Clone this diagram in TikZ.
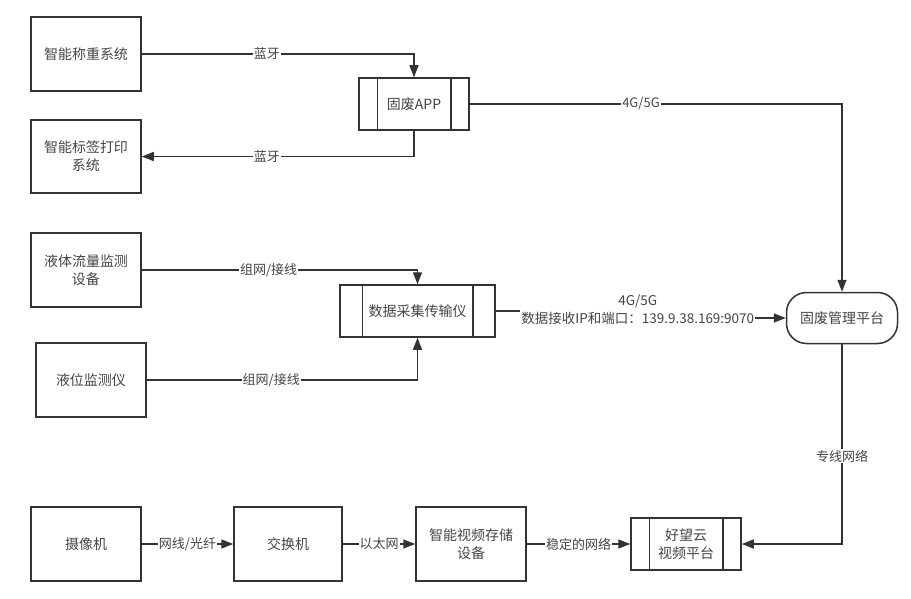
\documentclass[tikz,border=0pt]{standalone}
\usepackage{fontspec}
\newfontfamily\cjk{Noto Sans CJK SC}
\usetikzlibrary{arrows.meta}
\definecolor{linegray}{RGB}{51,51,51}
\definecolor{textgray}{RGB}{68,68,68}

\begin{document}
\begin{tikzpicture}[x=1pt, y=-1pt,
    box/.style={draw=linegray, line width=1.5pt, minimum width=110pt, minimum height=74pt,
      align=center, text=textgray, inner sep=2pt, font=\cjk\fontsize{14}{18}\selectfont},
    proc/.style={box, minimum height=52pt},
    arr/.style={draw=linegray, line width=1.4pt, -{Triangle[length=12pt,width=9pt]}},
    lab/.style={fill=white, text=textgray, inner sep=1pt, align=center,
      font=\cjk\fontsize{13}{18}\selectfont}]
  \useasboundingbox (0,0) rectangle (911,599);
  % nodes
  \node[box] (wgt) at (86,54) {智能称重系统};
  \node[box, minimum height=73pt] (lbl) at (86,156.5) {智能标签打印\\系统};
  \node[proc] (app) at (414,104) {固废APP};
  \node[box] (liq) at (86,270) {液体流量监测\\设备};
  \node[box] (lvl) at (91,380) {液位监测仪};
  \node[proc, minimum width=155pt] (dac) at (417.5,311) {数据采集传输仪};
  \node[box, minimum width=111pt, minimum height=51pt, rounded corners=20pt] (plat) at (842,318) {固废管理平台};
  \node[box] (cam) at (86,544) {摄像机};
  \node[box, minimum width=108pt] (sw) at (288,544) {交换机};
  \node[box] (nvr) at (471,544) {智能视频存储\\设备};
  \node[proc] (hwy) at (686,544) {好望云\\视频平台};
  % side bars of the process boxes
  \foreach \n/\d in {app/19, dac/23, hwy/19}
    \draw[linegray, line width=1.5pt] ([xshift=\d pt]\n.north west) -- ([xshift=\d pt]\n.south west)
      ([xshift=-\d pt]\n.north east) -- ([xshift=-\d pt]\n.south east);
  % connectors
  \draw[arr] (wgt.east) -| node[lab, pos=0.23] {蓝牙} (app.north);
  \draw[arr] (app.south) |- node[lab, pos=0.77] {蓝牙} (lbl.east);
  \draw[arr] (app.east) -| node[lab, pos=0.23] {4G/5G} (plat.north);
  \draw[arr] (liq.east) -| node[lab, pos=0.23] {组网/接线} (dac.north);
  \draw[arr] (lvl.east) -| node[lab, pos=0.23] {组网/接线} (dac.south);
  \draw[arr] (dac.east) -- ++(142,0) coordinate (jog) |- (plat.west);
  \node[lab, font=\cjk\fontsize{13.5}{18}\selectfont] (ipl) at ([yshift=1pt]jog)
    {4G/5G\\数据接收IP和端口：139.9.38.169:9070};
  \draw[arr] (plat.south) |- node[lab, pos=0.28] {专线网络} (hwy.east);
  \draw[arr] (cam) -- node[lab] {网线/光纤} (sw);
  \draw[arr] (sw) -- node[lab] {以太网} (nvr);
  \draw[arr] (nvr) -- node[lab] {稳定的网络} (hwy);
\end{tikzpicture}
\end{document}
